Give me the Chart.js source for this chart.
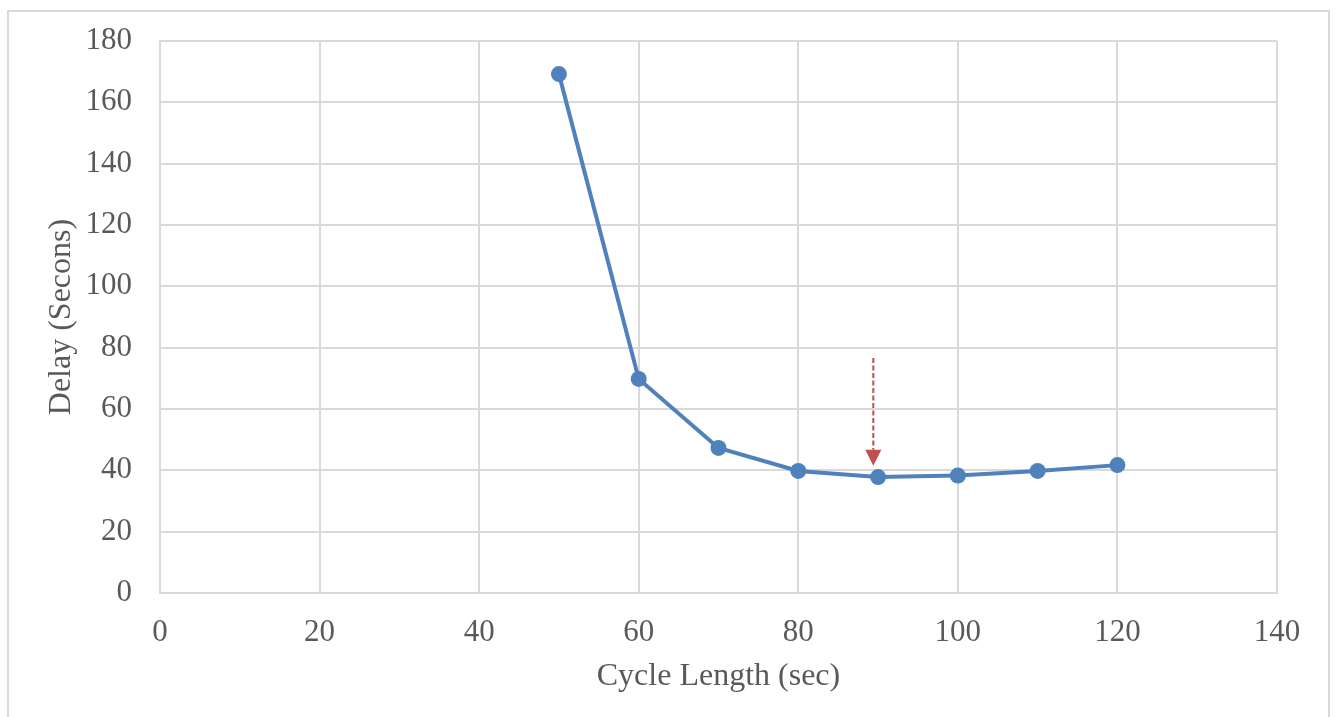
<!DOCTYPE html>
<html>
<head>
<meta charset="utf-8">
<script src="https://cdn.jsdelivr.net/npm/chart.js@4"></script>
<style>
  html, body { margin: 0; padding: 0; background: #ffffff; }
  #wrap { position: relative; width: 1338px; height: 717px; overflow: hidden; }
  #frame { position: absolute; left: 7px; top: 10px; width: 1323px; height: 720px; border: 2px solid #D9D9D9; box-sizing: border-box; pointer-events: none; }
  canvas { position: absolute; left: 0; top: 0; }
</style>
</head>
<body>
<div id="wrap">
  <canvas id="c" width="1338" height="717"></canvas>
  <div id="frame"></div>
</div>
<script>
const cycleLength = [50, 60, 70, 80, 90, 100, 110, 120];
const delaySeconds = [169.2, 69.8, 47.3, 39.8, 37.8, 38.3, 39.8, 41.7];
const xTickValues = [0, 20, 40, 60, 80, 100, 120, 140];
const yTickValues = [0, 20, 40, 60, 80, 100, 120, 140, 160, 180];
const arrowX = [89.4, 89.4];
const arrowY = [76.6, 41.5];

const FONT = "'Liberation Serif', 'Times New Roman', serif";

const arrowPlugin = {
  id: 'arrowAnnot',
  afterDatasetsDraw(chart) {
    const xs = chart.scales.x, ys = chart.scales.y;
    const ctx = chart.ctx;
    const x0 = xs.getPixelForValue(arrowX[0]);
    const y0 = ys.getPixelForValue(arrowY[0]);
    const x1 = xs.getPixelForValue(arrowX[1]);
    const y1 = ys.getPixelForValue(arrowY[1]);
    const headLen = 16, headHalf = 8;
    ctx.save();
    ctx.strokeStyle = '#C0504D';
    ctx.fillStyle = '#C0504D';
    ctx.lineWidth = 2;
    ctx.setLineDash([5, 2.5]);
    ctx.beginPath();
    ctx.moveTo(x0, y0);
    ctx.lineTo(x1, y1 - headLen);
    ctx.stroke();
    ctx.setLineDash([]);
    ctx.beginPath();
    ctx.moveTo(x1, y1);
    ctx.lineTo(x1 - headHalf, y1 - headLen);
    ctx.lineTo(x1 + headHalf, y1 - headLen);
    ctx.closePath();
    ctx.fill();
    ctx.restore();
  }
};

new Chart(document.getElementById('c'), {
  type: 'scatter',
  data: {
    datasets: [{
      data: cycleLength.map((x, i) => ({ x: x, y: delaySeconds[i] })),
      showLine: true,
      borderColor: '#4F81BD',
      backgroundColor: '#4F81BD',
      borderWidth: 4,
      pointRadius: 8,
      pointHoverRadius: 8,
      pointBorderWidth: 0,
      tension: 0
    }]
  },
  options: {
    responsive: false,
    animation: false,
    events: [],
    layout: { padding: { left: 0, top: 41, right: 61, bottom: 0 } },
    plugins: { legend: { display: false }, tooltip: { enabled: false } },
    scales: {
      x: {
        type: 'linear',
        min: 0, max: 140,
        afterBuildTicks: (s) => { s.ticks = xTickValues.map(v => ({ value: v })); },
        afterFit: (s) => { s.height = 124; s.paddingLeft = 0; s.paddingRight = 0; },
        grid: { color: '#D9D9D9', lineWidth: 2, drawTicks: false },
        border: { color: '#D9D9D9', width: 2 },
        ticks: { color: '#595959', font: { family: FONT, size: 31 }, padding: 21, maxRotation: 0 },
        title: { display: true, text: 'Cycle Length (sec)', color: '#595959', font: { family: FONT, size: 32 }, padding: { top: 0, bottom: 21 } }
      },
      y: {
        type: 'linear',
        min: 0, max: 180,
        afterBuildTicks: (s) => { s.ticks = yTickValues.map(v => ({ value: v })); },
        afterFit: (s) => { s.width = 160; s.paddingTop = 0; s.paddingBottom = 0; },
        grid: { color: '#D9D9D9', lineWidth: 2, drawTicks: false },
        border: { color: '#D9D9D9', width: 2 },
        ticks: { color: '#595959', font: { family: FONT, size: 31 }, padding: 28 },
        title: { display: true, text: 'Delay (Secons)', color: '#595959', font: { family: FONT, size: 32 }, padding: { top: 42, bottom: 0 } }
      }
    }
  },
  plugins: [arrowPlugin]
});
</script>
</body>
</html>
